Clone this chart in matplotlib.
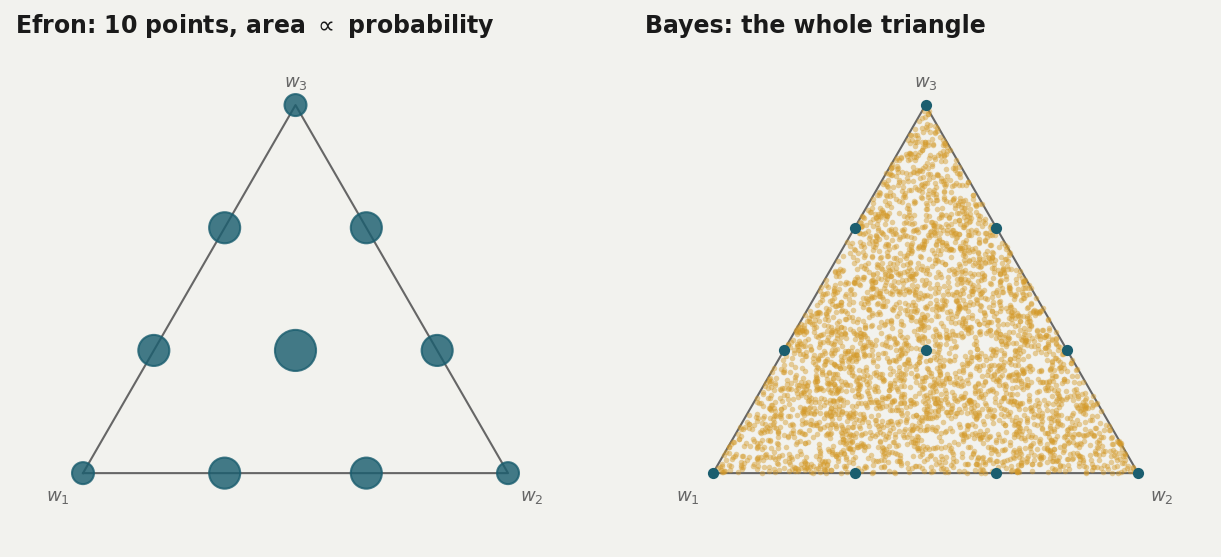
import numpy as np
import matplotlib
matplotlib.use("Agg")
import matplotlib.pyplot as plt

# weight vectors (w1, w2, w3) reachable by the bootstrap with n = 3
counts = [(3, 0, 0), (2, 1, 0), (1, 2, 0), (0, 3, 0),
          (2, 0, 1), (1, 1, 1), (0, 2, 1),
          (1, 0, 2), (0, 1, 2),
          (0, 0, 3)]
probs = [1/27, 3/27, 3/27, 1/27,
         3/27, 6/27, 3/27,
         3/27, 3/27,
         1/27]
corner_labels = ["$w_1$", "$w_2$", "$w_3$"]

# Bayesian bootstrap: flat Dirichlet draws over the simplex
N_DRAWS = 3500
DIRICHLET_ALPHA = [1.0, 1.0, 1.0]

BG = "#f2f2ee"
BLUE = "#1b5e6f"
GOLD = "#d49a2a"
GRAY = "#666666"


def to_xy(w):
    w = np.asarray(w, dtype=float)
    w = w / w.sum(axis=-1, keepdims=True)
    x = w[..., 1] + 0.5 * w[..., 2]
    y = np.sqrt(3) / 2 * w[..., 2]
    return x, y


def draw_frame(ax):
    cx, cy = to_xy(np.eye(3))
    ax.plot(np.r_[cx, cx[0]], np.r_[cy, cy[0]], color=GRAY, lw=1.5, zorder=1)
    ax.text(cx[0] - 0.06, cy[0] - 0.055, corner_labels[0], color=GRAY,
            fontsize=13, ha="center", va="center")
    ax.text(cx[1] + 0.055, cy[1] - 0.055, corner_labels[1], color=GRAY,
            fontsize=13, ha="center", va="center")
    ax.text(cx[2], cy[2] + 0.052, corner_labels[2], color=GRAY,
            fontsize=13, ha="center", va="center")
    ax.set_xlim(-0.16, 1.16)
    ax.set_ylim(-0.15, 1.0)
    ax.set_aspect("equal")
    ax.axis("off")


fig = plt.figure(figsize=(12.21, 5.57), dpi=100, facecolor=BG)
ax1 = fig.add_axes([15 / 1221, 20 / 557, 561 / 1221, 489 / 557])
ax2 = fig.add_axes([645 / 1221, 20 / 557, 561 / 1221, 489 / 557])
for ax in (ax1, ax2):
    ax.set_facecolor(BG)

# left: Efron
draw_frame(ax1)
px, py = to_xy(counts)
sizes = 125 + 3375 * np.array(probs)
ax1.scatter(px, py, s=sizes, color=BLUE, alpha=0.82, edgecolor=BLUE,
            linewidth=1.5, zorder=3)
ax1.set_title("Efron: 10 points, area $\\propto$ probability", loc="left",
              fontsize=17, fontweight="bold", color="#1a1a1a", pad=11)

# right: Bayes
draw_frame(ax2)
rng = np.random.default_rng(7)
draws = rng.dirichlet(DIRICHLET_ALPHA, size=N_DRAWS)
dx, dy = to_xy(draws)
ax2.scatter(dx, dy, s=16, color=GOLD, alpha=0.45, linewidth=0, zorder=2)
ax2.scatter(px, py, s=65, color=BLUE, linewidth=0, zorder=4)
ax2.set_title("Bayes: the whole triangle", loc="left",
              fontsize=17, fontweight="bold", color="#1a1a1a", pad=11)

fig.savefig("out.png", dpi=100, facecolor=BG)
